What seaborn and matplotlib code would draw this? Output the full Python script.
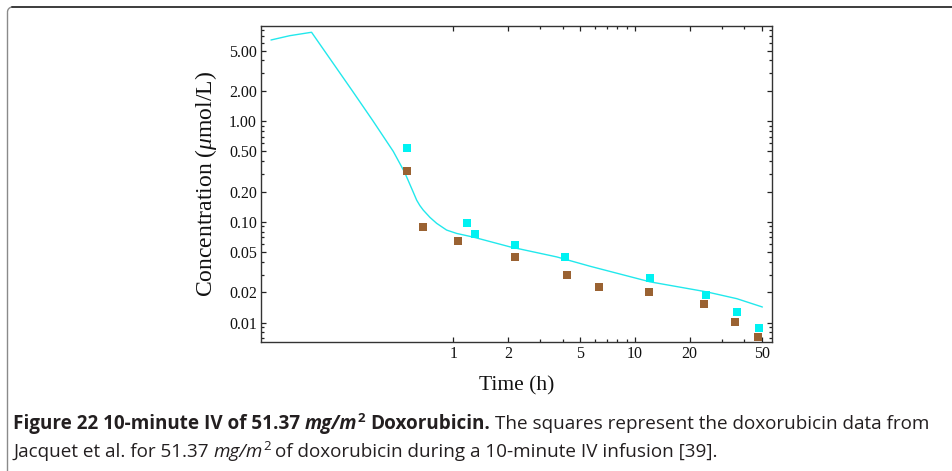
import numpy as np
import pandas as pd
import matplotlib
matplotlib.use("Agg")
import matplotlib.pyplot as plt
import seaborn as sns
from matplotlib.lines import Line2D
from matplotlib.ticker import FixedLocator, FixedFormatter, NullFormatter

# ---------------- data ----------------
curve_t = [0.0993, 0.126, 0.166, 0.278, 0.362, 0.4675, 0.540, 0.600, 0.629, 0.655, 0.684,
           0.745, 0.810, 0.919, 1.043, 1.288, 2.05, 3.71, 5.65, 12.1, 24.8, 36.3, 50.2]
curve_c = [6.37, 7.03, 7.6, 2.0, 1.0, 0.5, 0.31, 0.2, 0.164, 0.145, 0.1306,
           0.1105, 0.0967, 0.0829, 0.0768, 0.0706, 0.0565, 0.0449, 0.0363, 0.0254, 0.0202, 0.0173, 0.0143]

cyan_t = [0.558, 1.19, 1.32, 2.19, 4.10, 12.1, 24.6, 36.5, 48.3]
cyan_c = [0.543, 0.0977, 0.0766, 0.0587, 0.0449, 0.0278, 0.0187, 0.01277, 0.00885]

brown_t = [0.558, 0.684, 1.065, 2.19, 4.24, 6.36, 12.0, 24.1, 35.6, 47.7]
brown_c = [0.319, 0.0891, 0.0643, 0.0449, 0.0296, 0.0226, 0.0202, 0.0152, 0.01016, 0.00721]

x_major = [1, 2, 5, 10, 20, 50]
x_major_labels = ["1", "2", "5", "10", "20", "50"]
x_minor = [3, 4, 6, 7, 8, 9, 30, 40]
y_major = [0.01, 0.02, 0.05, 0.10, 0.20, 0.50, 1.00, 2.00, 5.00]
y_major_labels = ["0.01", "0.02", "0.05", "0.10", "0.20", "0.50", "1.00", "2.00", "5.00"]
y_minor = [0.007, 0.008, 0.009, 0.03, 0.04, 0.06, 0.07, 0.08, 0.09,
           0.3, 0.4, 0.6, 0.7, 0.8, 0.9, 3, 4, 6, 7, 8]

x_label = "Time (h)"
y_label = r"Concentration ($\mu$mol/L)"

CYAN = "#00F2F2"
LINE_CYAN = "#22E8EC"
BROWN = "#9A6232"

# ---------------- figure ----------------
W, H = 953, 471
sns.set_style("ticks")
plt.rcParams["font.family"] = ["Liberation Serif", "DejaVu Serif"]
plt.rcParams["mathtext.fontset"] = "custom"
plt.rcParams["mathtext.it"] = "Liberation Serif:italic"
plt.rcParams["mathtext.rm"] = "Liberation Serif"

fig = plt.figure(figsize=(W / 100, H / 100), dpi=100)
ax = fig.add_axes([261 / W, 1 - 342 / H, (772 - 261) / W, (342 - 26) / H])

df_curve = pd.DataFrame({"t": curve_t, "c": curve_c})
df_cyan = pd.DataFrame({"t": cyan_t, "c": cyan_c})
df_brown = pd.DataFrame({"t": brown_t, "c": brown_c})

sns.lineplot(data=df_curve, x="t", y="c", color=LINE_CYAN, linewidth=1.0,
             sort=False, ax=ax, zorder=2)
sns.scatterplot(data=df_brown, x="t", y="c", color=BROWN, marker="s", s=38,
                linewidth=0, ax=ax, zorder=3)
sns.scatterplot(data=df_cyan, x="t", y="c", color=CYAN, marker="s", s=38,
                linewidth=0, ax=ax, zorder=3)

ax.set_xscale("log")
ax.set_yscale("log")
ax.set_xlim(0.0875, 56.7)
ax.set_ylim(0.00643, 8.77)

ax.xaxis.set_major_locator(FixedLocator(x_major))
ax.xaxis.set_major_formatter(FixedFormatter(x_major_labels))
ax.xaxis.set_minor_locator(FixedLocator(x_minor))
ax.xaxis.set_minor_formatter(NullFormatter())
ax.yaxis.set_major_locator(FixedLocator(y_major))
ax.yaxis.set_major_formatter(FixedFormatter(y_major_labels))
ax.yaxis.set_minor_locator(FixedLocator(y_minor))
ax.yaxis.set_minor_formatter(NullFormatter())

ax.tick_params(which="both", direction="in", top=True, right=True,
               color="#222222", width=0.9)
ax.tick_params(which="major", length=3.8, pad=3, labelsize=11.5, labelcolor="#111111")
ax.tick_params(which="minor", length=2)
for sp in ax.spines.values():
    sp.set_color("#333333")
    sp.set_linewidth(1.0)
    sp.set_visible(True)

ax.set_xlabel(x_label, fontsize=15.5, color="#111111", labelpad=10)
ax.set_ylabel(y_label, fontsize=17, color="#111111", labelpad=7)

# ---------------- figure border ----------------
def px(x, y):
    return x / W, 1 - y / H

x0, y0 = px(7.5, 12)
x1, y1 = px(7.5, H)
fig.add_artist(Line2D([x0, x1], [y0, y1], transform=fig.transFigure,
                      color="#8a8a8a", linewidth=1.0))
theta = np.linspace(np.pi, np.pi / 2, 12)
cx, cy = 12.5, 12
arc_x = [(cx + 5 * np.cos(a)) / W for a in theta]
arc_y = [1 - (cy - 5 * np.sin(a)) / H for a in theta]
fig.add_artist(Line2D(arc_x, arc_y, transform=fig.transFigure,
                      color="#8a8a8a", linewidth=1.0))
xa, ya = px(12.5, 7)
xb, yb = px(W, 7)
fig.add_artist(Line2D([xa, xb], [ya, yb], transform=fig.transFigure,
                      color="#3c3c3c", linewidth=1.4))

# ---------------- caption ----------------
CAP_FONT = ["Open Sans", "DejaVu Sans"]
CAP_COLOR = "#231f20"
renderer = fig.canvas.get_renderer()


def piece_width(txt, size, weight="normal", style="normal"):
    t = fig.text(0, 0, txt, fontsize=size, family=CAP_FONT, weight=weight, style=style)
    w = t.get_window_extent(renderer).width
    t.remove()
    return w


def space_w(size, weight="normal"):
    return piece_width("x x", size, weight) - piece_width("xx", size, weight)


line1 = [("Figure 22 10-minute IV of 51.37", "bold", "normal", False), (" ", "bold", None, False),
         ("mg/m", "bold", "italic", False), ("2", "bold", "normal", True), (" ", "bold", None, False),
         ("Doxorubicin.", "bold", "normal", False), (" ", "normal", None, False),
         ("The squares represent the doxorubicin data from", "normal", "normal", False)]
line2 = [("Jacquet et al. for 51.37", "normal", "normal", False), (" ", "normal", None, False),
         ("mg/m", "normal", "italic", False), ("2", "normal", "normal", True), (" ", "normal", None, False),
         ("of doxorubicin during a 10-minute IV infusion [39].", "normal", "normal", False)]


def line_width(pieces, size):
    total = 0
    for txt, weight, style, sup in pieces:
        if style is None:
            total += space_w(size, weight)
        else:
            s = size * 0.7 if sup else size
            total += piece_width(txt, s, weight, style)
    return total


def draw_line(pieces, xstart, ybase, size):
    x = xstart
    for txt, weight, style, sup in pieces:
        if style is None:
            x += space_w(size, weight)
            continue
        s = size * 0.7 if sup else size
        yy = ybase - (size * 0.55 if sup else 0)
        t = fig.text(x / W, 1 - yy / H, txt, fontsize=s, family=CAP_FONT,
                     weight=weight, style=style, color=CAP_COLOR,
                     ha="left", va="baseline")
        x += t.get_window_extent(renderer).width


base = 10.0
w1 = line_width(line1, base)
cap_size = base * (928 - 13) / w1
draw_line(line1, 13, 429, cap_size)
draw_line(line2, 13, 457, cap_size)

fig.savefig("out.png", dpi=100)
